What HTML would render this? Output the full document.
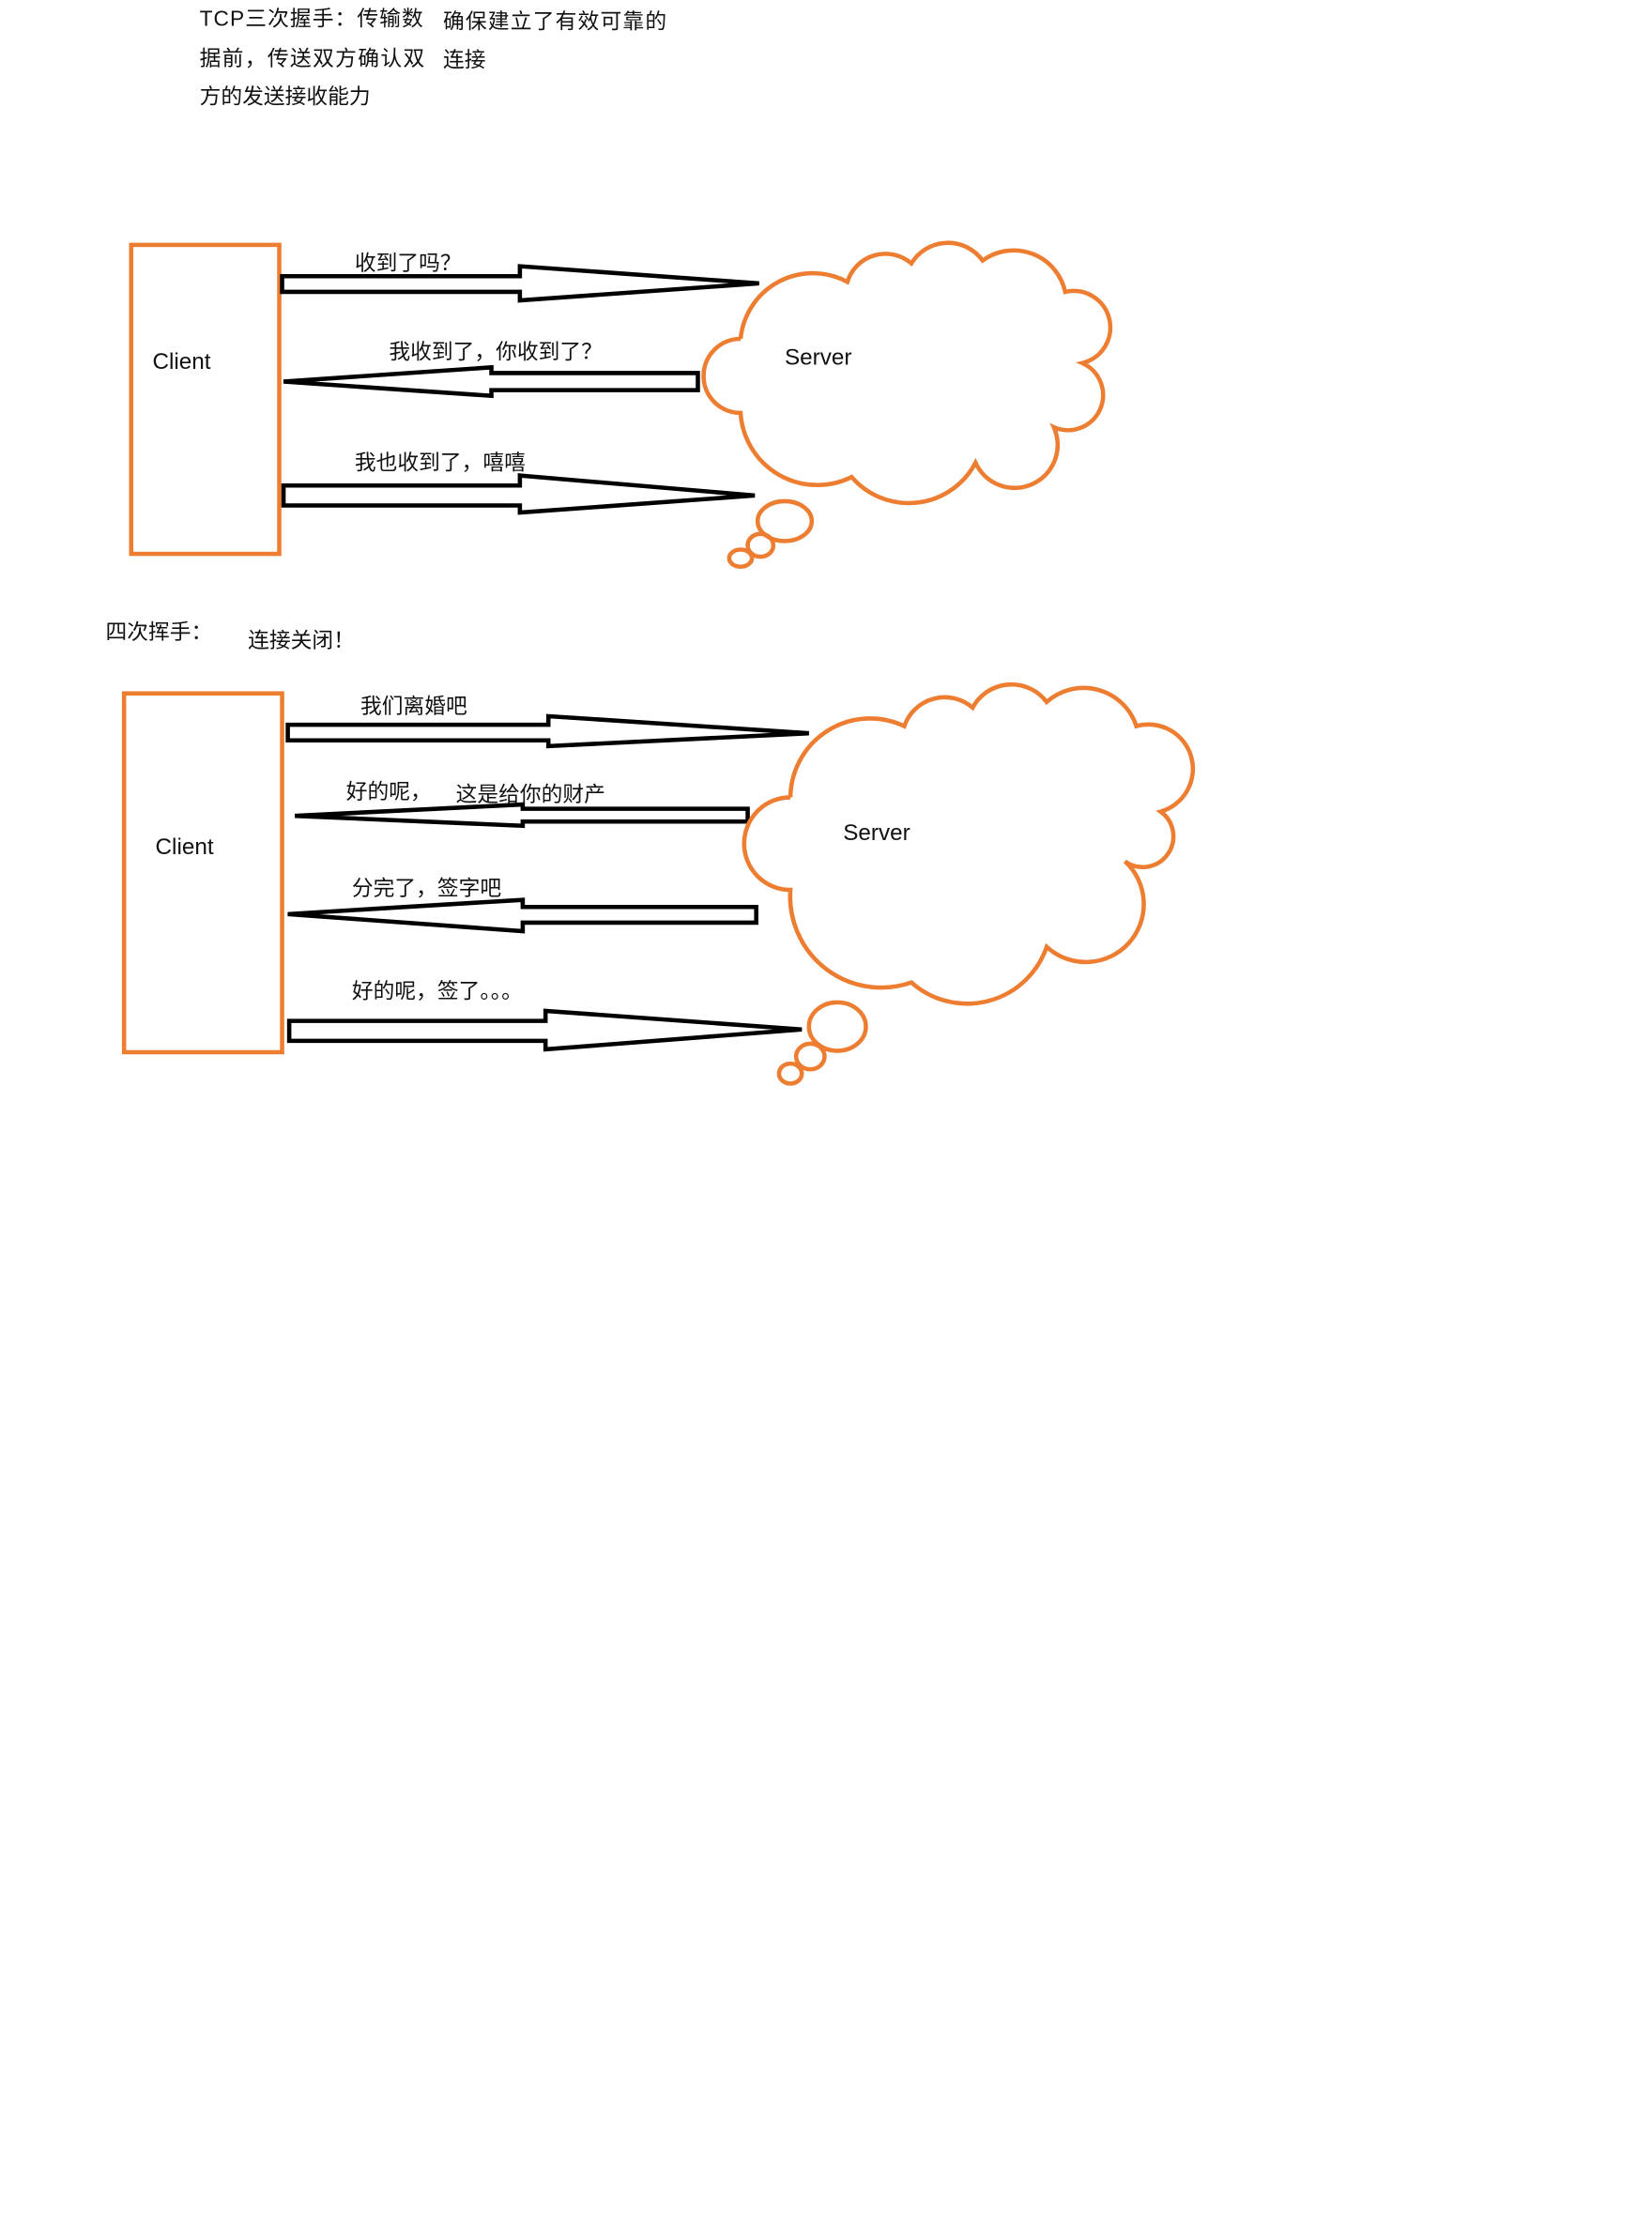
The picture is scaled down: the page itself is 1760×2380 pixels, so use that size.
<!DOCTYPE html>
<html><head><meta charset="utf-8"><style>
html,body{margin:0;padding:0;background:#fff;}
svg{display:block;}
text{font-family:"Liberation Sans","Noto Sans CJK SC",sans-serif;font-size:15px;fill:#111;}
.o{fill:none;stroke:#ED7D31;stroke-width:3;}
.a{fill:#fff;stroke:#000;stroke-width:3;stroke-linejoin:miter;}
</style></head><body>
<svg width="1760" height="2380" viewBox="0 0 1160 1569" xmlns="http://www.w3.org/2000/svg">
<rect width="1160" height="1569" fill="#fff"/>
<text x="140" y="18" textLength="157">TCP三次握手：传输数</text>
<text x="140" y="46" textLength="158">据前，传送双方确认双</text>
<text x="140" y="73">方的发送接收能力</text>
<text x="311" y="20" textLength="157">确保建立了有效可靠的</text>
<text x="311" y="47">连接</text>

<rect class="o" x="92" y="172" width="104" height="217"/>
<text x="107" y="259" style="font-size:16px">Client</text>

<polygon class="a" points="198,194 365,194 365,187 533,199 365,211 365,205 198,205"/>
<text x="249" y="190">收到了吗？</text>
<polygon class="a" points="490,262 345,262 345,258 199,268 345,278 345,274 490,274"/>
<text x="273" y="252">我收到了，你收到了？</text>
<polygon class="a" points="199,341 365,341 365,334 530,348 365,360 365,355 199,355"/>
<text x="249" y="330">我也收到了，嘻嘻</text>

<path class="o" d="M520,238 A51,51 0 0 1 595,198 A28,28 0 0 1 640,185 A30,30 0 0 1 690,183 A37,37 0 0 1 748,205 A1,1 0 0 1 760,255 A1,1 0 0 1 740,300 A1,1 0 0 1 685,325 A53,53 0 0 1 598,335 A54,54 0 0 1 520,290 A1,1 0 0 1 520,238"/>
<ellipse class="o" cx="551" cy="366" rx="19" ry="14"/>
<ellipse class="o" cx="534" cy="383" rx="9" ry="8"/>
<ellipse class="o" cx="520" cy="392" rx="8" ry="6"/>
<text x="551" y="256" style="font-size:16px">Server</text>

<text x="74" y="449">四次挥手：</text>
<text x="174" y="455">连接关闭！</text>

<rect class="o" x="87" y="487" width="111" height="252"/>
<text x="109" y="600" style="font-size:16px">Client</text>

<polygon class="a" points="202,509 385,509 385,503 568,515 385,524 385,520 202,520"/>
<text x="253" y="501">我们离婚吧</text>
<polygon class="a" points="525,568 367,568 367,565 207,573 367,580 367,577 525,577"/>
<text x="243" y="561">好的呢，</text>
<text x="320" y="563">这是给你的财产</text>
<polygon class="a" points="531,637 367,637 367,632 202,642 367,654 367,648 531,648"/>
<text x="247" y="629">分完了，签字吧</text>
<polygon class="a" points="203,717 383,717 383,710 563,723 383,737 383,731 203,731"/>
<text x="247" y="701">好的呢，签了。。。</text>

<path class="o" d="M555,560 A56,56 0 0 1 635,510 A30,30 0 0 1 683,497 A31,31 0 0 1 735,493 A39,39 0 0 1 798,510 A1,1 0 0 1 815,570 A1,1 0 0 1 790,605 A1,1 0 0 1 735,665 A59,59 0 0 1 640,690 A64,64 0 0 1 555,625 A1,1 0 0 1 555,560"/>
<ellipse class="o" cx="588" cy="721" rx="20" ry="17"/>
<ellipse class="o" cx="569" cy="742" rx="10" ry="9"/>
<ellipse class="o" cx="555" cy="754" rx="8" ry="7"/>
<text x="592" y="590" style="font-size:16px">Server</text>
</svg>
</body></html>
